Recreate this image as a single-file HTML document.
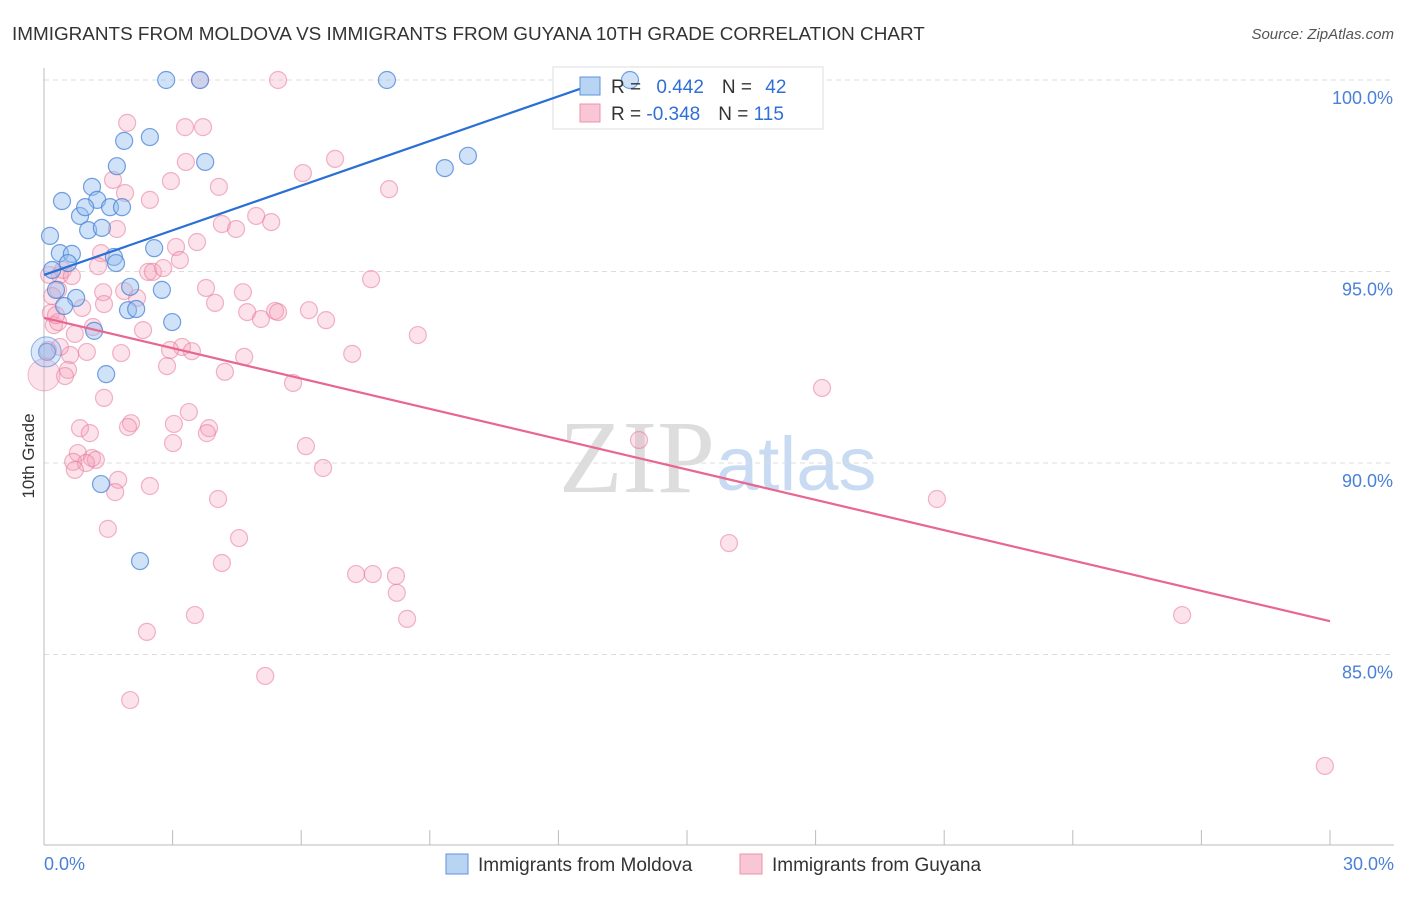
<!DOCTYPE html>
<html><head><meta charset="utf-8"><style>
body{margin:0;background:#fff;font-family:"Liberation Sans",sans-serif;}
#c{position:relative;width:1406px;height:892px;}
</style></head><body>
<div id="c">
<svg id="s" width="1406" height="892">
<text x="12" y="40" font-size="18.9" fill="#333">IMMIGRANTS FROM MOLDOVA VS IMMIGRANTS FROM GUYANA 10TH GRADE CORRELATION CHART</text>
<text x="1394" y="39" font-size="15" fill="#555" text-anchor="end" font-style="italic">Source: ZipAtlas.com</text>
<text transform="translate(34,456) rotate(-90)" font-size="17" fill="#333" text-anchor="middle">10th Grade</text>
<text x="715" y="492" font-size="104" fill="#ddd" text-anchor="end" font-family="Liberation Serif">ZIP</text>
<text x="716" y="490" font-size="76" fill="#c8dbf2">atlas</text>
<g id="grid"></g>
<rect x="553" y="67" width="270" height="62" fill="#fff" fill-opacity="0.9" stroke="#ddd"/>
<g id="pts"></g><g id="lines"></g>
<rect x="580" y="77" width="20" height="18" fill="#b9d3f3" stroke="#5b93dc"/>
<rect x="580" y="104" width="20" height="18" fill="#f9c6d5" stroke="#eb93b0"/>
<text x="611" y="93" font-size="19" fill="#333">R = <tspan fill="#2f6fd6" dx="10">0.442</tspan><tspan dx="18">N = </tspan><tspan fill="#2f6fd6" dx="8">42</tspan></text>
<text x="611" y="120" font-size="19" fill="#333">R = <tspan fill="#2f6fd6">-0.348</tspan><tspan dx="18">N = </tspan><tspan fill="#2f6fd6">115</tspan></text>
<rect x="446" y="854" width="22" height="20" fill="#b9d3f3" stroke="#5b93dc"/>
<text x="478" y="871" font-size="19" fill="#333">Immigrants from Moldova</text>
<rect x="740" y="854" width="22" height="20" fill="#f9c6d5" stroke="#eb93b0"/>
<text x="772" y="871" font-size="19" fill="#333">Immigrants from Guyana</text>
</svg></div>
<script>
const yTicks=[100,95,90,85];
const yTickLabels=["100.0%","95.0%","90.0%","85.0%"];
const xTickLabels=["0.0%","30.0%"];
const blueX=[2.85,3.64,8.0,13.67,2.47,1.87,1.70,3.76,9.35,9.89,0.42,1.12,1.24,0.84,0.96,1.54,1.82,1.03,1.35,0.14,2.57,0.37,0.65,1.63,1.68,0.56,0.19,2.75,2.01,0.28,0.75,0.47,1.96,2.15,2.99,1.17,0.07,1.45,1.33,2.24];
const blueY=[100,100,100,100,98.51,98.41,97.75,97.86,97.70,98.02,96.84,97.21,96.87,96.45,96.68,96.68,96.68,96.08,96.14,95.93,95.61,95.48,95.46,95.38,95.22,95.22,95.04,94.52,94.60,94.52,94.31,94.10,93.99,94.02,93.68,93.45,92.90,92.32,89.45,87.44];
const pinkX=[3.64,5.46,1.94,3.29,3.71,6.79,3.31,6.04,1.61,2.96,4.08,8.05,1.89,2.47,4.95,5.30,4.15,4.48,1.70,3.57,3.08,1.33,3.17,1.26,2.43,2.54,2.78,0.37,0.12,0.44,7.63,3.78,4.64,1.87,1.38,0.33,0.19,2.17,3.99,1.40,0.89,4.74,5.06,5.39,5.46,6.18,6.58,0.16,0.23,0.33,1.14,0.72,2.31,8.72,3.22,2.94,3.45,1.80,1.00,0.61,0.37,4.67,7.19,2.87,4.22,0.56,0.49,5.81,18.15,1.40,3.38,2.03,1.96,0.84,1.07,3.03,3.85,3.80,3.01,13.88,6.11,0.79,1.12,1.21,0.68,0.98,0.72,6.51,1.73,1.66,2.47,4.06,20.83,1.49,4.55,15.98,4.15,7.28,7.67,8.21,8.23,3.52,8.47,26.55,2.40,5.16,2.01,29.88,0.09,0.28,0.65];
const pinkY=[100,100,98.88,98.77,98.77,97.94,97.86,97.57,97.39,97.36,97.21,97.15,97.05,96.87,96.45,96.29,96.24,96.11,96.11,95.77,95.64,95.48,95.30,95.14,94.99,94.99,95.09,94.91,94.91,95.04,94.80,94.57,94.46,94.49,94.46,94.52,94.36,94.31,94.18,94.15,94.05,93.94,93.76,93.97,93.94,93.99,93.73,93.92,93.60,93.68,93.55,93.37,93.47,93.34,93.03,92.95,92.92,92.87,92.90,92.82,93.03,92.77,92.85,92.53,92.38,92.43,92.27,92.09,91.96,91.70,91.33,91.04,90.94,90.91,90.78,91.02,90.91,90.78,90.52,90.60,90.44,90.26,90.13,90.08,90.03,90.00,89.82,89.87,89.56,89.24,89.40,89.06,89.06,88.28,88.04,87.91,87.39,87.10,87.10,87.05,86.61,86.03,85.93,86.03,85.59,84.44,83.81,82.09,92.95,93.86,94.88];
const blueTrendX=[0,12.97], blueTrendY=[94.91,99.95];
const pinkTrendX=[0,30], pinkTrendY=[93.79,85.87];
const NS="http://www.w3.org/2000/svg";
const xs=v=>44+v/30*1286, ys=v=>80+(100-v)/5*191.5;
function mk(t,a,p){const e=document.createElementNS(NS,t);for(const k in a)e.setAttribute(k,a[k]);p.appendChild(e);return e;}
const g=document.getElementById('grid');
yTicks.forEach((t,i)=>{
 const l=mk('line',{x1:44,x2:1394,y1:ys(t),y2:ys(t),stroke:'#ddd','stroke-dasharray':'5,4'},g);
 
 
 const tx=mk('text',{x:1393,y:ys(t)+24,'font-size':18,fill:'#4a80d8','text-anchor':'end'},g);tx.textContent=yTickLabels[i];
 
 
});
const ax=mk('line',{x1:44,x2:44,y1:68,y2:845,stroke:'#bbb'},g);


const bx=mk('line',{x1:44,x2:1394,y1:845,y2:845,stroke:'#bbb'},g);


for(let i=0;i<=10;i++){const t=mk('line',{x1:xs(i*3),x2:xs(i*3),y1:830,y2:845,stroke:'#bbb'},g);
 
 }
[[0,'start',44],[1,'end',1394]].forEach(([i,a,x])=>{const t=mk('text',{x:x,y:870,'font-size':18,fill:'#4a80d8','text-anchor':a},g);t.textContent=xTickLabels[i];
 
 });
const p=document.getElementById('pts');
pinkX.forEach((v,i)=>{const c=mk('circle',{cx:xs(v),cy:ys(pinkY[i]),r:8.5,fill:'rgba(244,160,185,0.3)',stroke:'rgba(232,120,155,0.55)','stroke-width':1.2},p);
 
 });
blueX.forEach((v,i)=>{const c=mk('circle',{cx:xs(v),cy:ys(blueY[i]),r:8.5,fill:'rgba(150,190,240,0.45)',stroke:'rgba(70,130,215,0.75)','stroke-width':1.2},p);
 
 });
const big=mk('circle',{cx:xs(0),cy:ys(92.3),r:16,fill:'rgba(244,160,185,0.3)',stroke:'rgba(232,120,155,0.5)'},p);


const bigb=mk('circle',{cx:xs(0.05),cy:ys(92.9),r:15,fill:'rgba(150,190,240,0.35)',stroke:'rgba(70,130,215,0.6)'},p);


const L=document.getElementById('lines');
const bl=mk('line',{x1:xs(blueTrendX[0]),y1:ys(blueTrendY[0]),x2:xs(blueTrendX[1]),y2:ys(blueTrendY[1]),stroke:'#2a6fd6','stroke-width':2.2},L);


const pl=mk('line',{x1:xs(pinkTrendX[0]),y1:ys(pinkTrendY[0]),x2:xs(pinkTrendX[1]),y2:ys(pinkTrendY[1]),stroke:'#e8668f','stroke-width':2.2},L);


</script></body></html>
